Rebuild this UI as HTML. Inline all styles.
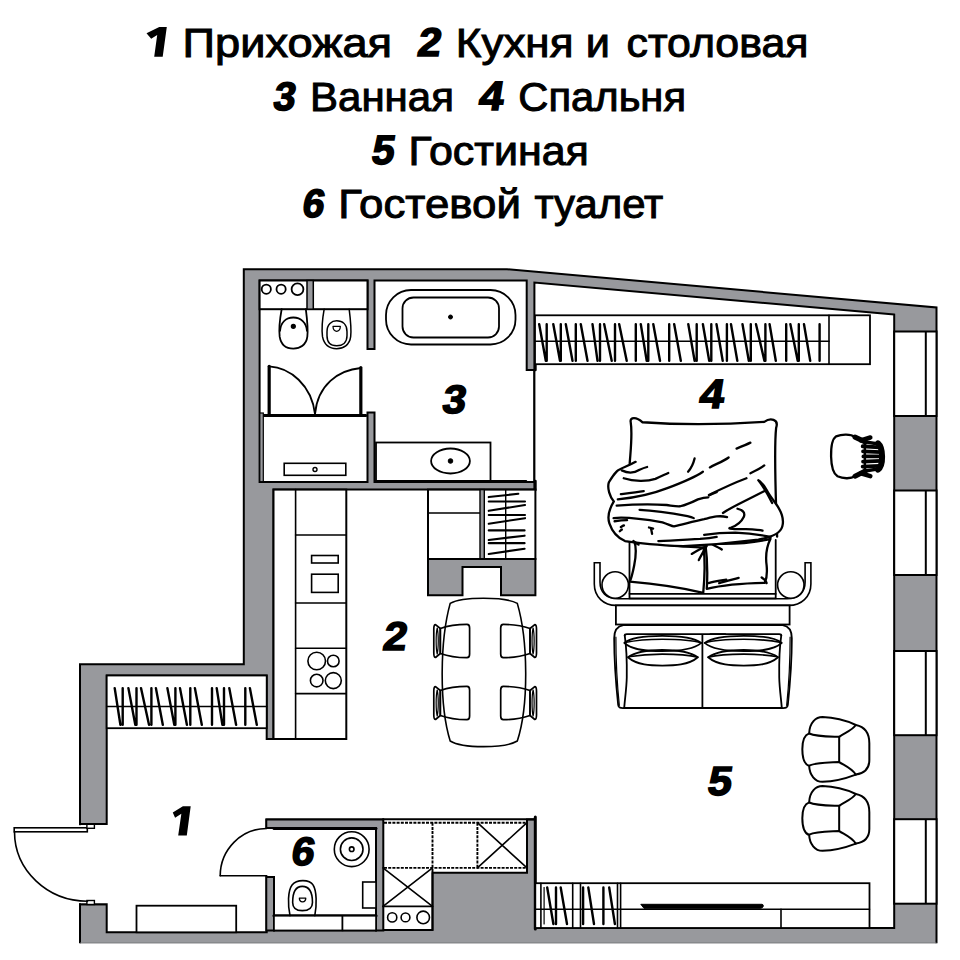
<!DOCTYPE html>
<html><head><meta charset="utf-8"><style>html,body{margin:0;padding:0;background:#fff;width:960px;height:960px;overflow:hidden}svg{display:block}</style></head>
<body><svg width="960" height="960" viewBox="0 0 960 960"><path d="M80,943.3 L80,904.3 L106.7,904.3 L106.7,824 L80,824 L80,664.2 L243.8,664.2 L243.8,269.2 L507,269.2 L936.5,307.5 L936.5,943.3 Z" fill="#98999d" stroke="none"/>
<path d="M80,943.3 L80,904.3 L106.7,904.3 L106.7,824 L80,824 L80,664.2 L243.8,664.2 L243.8,269.2 L507,269.2 L936.5,307.5 L936.5,943.3" fill="none" stroke="#000" stroke-width="2" stroke-linecap="butt"/>
<line x1="80" y1="942.9" x2="936.5" y2="942.9" stroke="#77787b" stroke-width="0.8"/>
<path d="M367.50,349.00 L367.50,280.50 L259.60,280.50 L259.60,482.00 L367.50,482.00 L367.50,412.50 L374.50,412.50 L374.50,482.00 L526.00,482.00 L526.70,482.00 L534.40,482.00 L534.40,370.00 L526.70,370.00 L526.70,280.50 L374.50,280.50 L374.50,349.00 Z" fill="#fff" stroke="#000" stroke-width="2"/>
<path d="M894.20,314.60 L534.40,282.50 L534.40,489.50 L273.50,489.50 L273.50,739.00 L266.70,739.00 L266.70,675.50 L106.70,675.50 L106.70,824.00 L80.00,824.00 L80.00,904.30 L106.70,904.30 L106.70,932.30 L266.70,932.30 L266.70,877.00 L274.00,877.00 L274.00,930.40 L376.00,930.40 L376.00,828.00 L275.00,828.00 L274.00,828.00 L266.70,828.00 L266.70,819.60 L383.00,819.60 L383.00,872.80 L383.00,930.00 L432.50,930.00 L432.50,872.80 L527.00,872.80 L527.00,819.60 L535.00,819.60 L535.00,928.00 L894.20,928.00 Z" fill="#fff" stroke="#000" stroke-width="2"/>
<rect x="78" y="825.2" width="3.5" height="77.9" fill="#fff"/>
<rect x="894.2" y="331.5" width="42.3" height="84.5" fill="#fff" stroke="#000" stroke-width="2"/>
<line x1="925.8" y1="331.5" x2="925.8" y2="416" stroke="#000" stroke-width="2"/>
<rect x="894.2" y="490.5" width="42.3" height="84.5" fill="#fff" stroke="#000" stroke-width="2"/>
<line x1="925.8" y1="490.5" x2="925.8" y2="575" stroke="#000" stroke-width="2"/>
<rect x="894.2" y="651" width="42.3" height="84.20000000000005" fill="#fff" stroke="#000" stroke-width="2"/>
<line x1="925.8" y1="651" x2="925.8" y2="735.2" stroke="#000" stroke-width="2"/>
<rect x="894.2" y="819.2" width="42.3" height="84.5" fill="#fff" stroke="#000" stroke-width="2"/>
<line x1="925.8" y1="819.2" x2="925.8" y2="903.7" stroke="#000" stroke-width="2"/>
<rect x="259.6" y="280.5" width="107.90" height="28.70" rx="0" fill="#fff" stroke="#000" stroke-width="2" />
<rect x="307" y="280.5" width="6.30" height="28.70" rx="0" fill="#98999d" stroke="#000" stroke-width="1.5" />
<circle cx="266.3" cy="289.2" r="4.6" fill="none" stroke="#000" stroke-width="1.8"/>
<circle cx="281.1" cy="289.2" r="4.6" fill="none" stroke="#000" stroke-width="1.8"/>
<circle cx="297.5" cy="289.2" r="5.9" fill="none" stroke="#000" stroke-width="1.8"/>
<g transform="translate(230,260) scale(0.166667)"><path d="M310,295 C300,350 293,420 298,460 C306,510 340,532 380,532 C420,532 458,510 464,460 C469,420 462,350 455,295" fill="none" stroke="#000" stroke-width="1.8" vector-effect="non-scaling-stroke" stroke-linecap="round" stroke-linejoin="round"/><path d="M300,425 C305,375 335,345 380,345 C425,345 458,375 462,425" fill="none" stroke="#000" stroke-width="1.8" vector-effect="non-scaling-stroke" stroke-linecap="round" stroke-linejoin="round"/><path d="M380,398 m-12,0 a12,12 0 1,0 24,0 a12,12 0 1,0 -24,0" fill="#000" stroke="#000" stroke-width="1.2" vector-effect="non-scaling-stroke" stroke-linecap="round" stroke-linejoin="round"/><path d="M565,295 C555,350 550,420 555,460 C565,510 600,532 640,532 C680,532 718,510 724,460 C729,420 722,350 715,295" fill="none" stroke="#000" stroke-width="1.5" vector-effect="non-scaling-stroke" stroke-linecap="round" stroke-linejoin="round"/><path d="M582,430 C582,385 610,365 640,365 C675,365 702,385 702,430 L702,455 C702,495 675,515 640,515 C605,515 582,495 582,455 Z" fill="none" stroke="#000" stroke-width="1.5" vector-effect="non-scaling-stroke" stroke-linecap="round" stroke-linejoin="round"/><path d="M618,398 L662,398 C662,418 650,428 640,428 C630,428 618,418 618,398 Z" fill="none" stroke="#000" stroke-width="1.3" vector-effect="non-scaling-stroke" stroke-linecap="round" stroke-linejoin="round"/></g>
<g transform="translate(240,360) scale(0.166667)"><path d="M175,38 L175,330" fill="none" stroke="#000" stroke-width="3.2" vector-effect="non-scaling-stroke" stroke-linecap="round" stroke-linejoin="round"/><path d="M175,38 C300,45 430,150 450,325" fill="none" stroke="#000" stroke-width="1.8" vector-effect="non-scaling-stroke" stroke-linecap="round" stroke-linejoin="round"/><path d="M725,45 L725,330" fill="none" stroke="#000" stroke-width="3.2" vector-effect="non-scaling-stroke" stroke-linecap="round" stroke-linejoin="round"/><path d="M725,48 C590,60 465,150 450,325" fill="none" stroke="#000" stroke-width="1.8" vector-effect="non-scaling-stroke" stroke-linecap="round" stroke-linejoin="round"/><path d="M145,333 L755,333" fill="none" stroke="#000" stroke-width="3.2" vector-effect="non-scaling-stroke" stroke-linecap="round" stroke-linejoin="round"/></g>
<rect x="259.8" y="413" width="3.50" height="68.70" rx="0" fill="#98999d" stroke="#000" stroke-width="1.2" />
<rect x="284.2" y="463.3" width="61.60" height="12.00" rx="0" fill="#fff" stroke="#000" stroke-width="1.6" />
<circle cx="315" cy="469.5" r="2.0" fill="none" stroke="#000" stroke-width="1.4"/>
<rect x="386" y="290" width="129.50" height="54.50" rx="25" fill="#fff" stroke="#000" stroke-width="1.8" />
<rect x="402.5" y="297.5" width="96.50" height="40.00" rx="11" fill="#fff" stroke="#000" stroke-width="1.8" />
<circle cx="450.5" cy="317" r="2.0" fill="#000" stroke="#000" stroke-width="1"/>
<rect x="376" y="442.5" width="114.50" height="39.50" rx="0" fill="#fff" stroke="#000" stroke-width="1.8" />
<ellipse cx="450.5" cy="461" rx="19.4" ry="12.5" fill="none" stroke="#000" stroke-width="1.8"/>
<circle cx="450.5" cy="461" r="2.3" fill="#000" stroke="#000" stroke-width="1"/>
<path d="M376,481.3 L526,481.3" fill="none" stroke="#000" stroke-width="2.5" stroke-linecap="round" stroke-linejoin="round" />
<path d="M535.4,355 L535.4,370" fill="none" stroke="#000" stroke-width="2.6" stroke-linecap="round" stroke-linejoin="round" stroke-linecap="butt"/>
<path d="M535.4,481 L535.4,490" fill="none" stroke="#000" stroke-width="2.6" stroke-linecap="round" stroke-linejoin="round" stroke-linecap="butt"/>
<rect x="273.5" y="489.6" width="72.80" height="249.40" rx="0" fill="#fff" stroke="#000" stroke-width="2" />
<path d="M295.6,489.6 L295.6,739" fill="none" stroke="#000" stroke-width="1.6" stroke-linecap="round" stroke-linejoin="round" />
<path d="M295.6,535 L346.3,535" fill="none" stroke="#000" stroke-width="1.6" stroke-linecap="round" stroke-linejoin="round" />
<path d="M295.6,603 L346.3,603" fill="none" stroke="#000" stroke-width="1.6" stroke-linecap="round" stroke-linejoin="round" />
<path d="M295.6,648.2 L346.3,648.2" fill="none" stroke="#000" stroke-width="1.6" stroke-linecap="round" stroke-linejoin="round" />
<path d="M295.6,693.6 L346.3,693.6" fill="none" stroke="#000" stroke-width="1.6" stroke-linecap="round" stroke-linejoin="round" />
<rect x="311.6" y="555.5" width="26.60" height="7.50" rx="0" fill="#fff" stroke="#000" stroke-width="1.6" />
<rect x="311.6" y="574.2" width="26.60" height="18.20" rx="0" fill="#fff" stroke="#000" stroke-width="1.6" />
<circle cx="316.7" cy="661" r="8.8" fill="none" stroke="#000" stroke-width="1.6"/>
<circle cx="333.3" cy="661" r="5.8" fill="none" stroke="#000" stroke-width="1.6"/>
<circle cx="316.7" cy="680.6" r="6.3" fill="none" stroke="#000" stroke-width="1.6"/>
<circle cx="333.3" cy="680.6" r="8" fill="none" stroke="#000" stroke-width="1.6"/>
<rect x="428" y="489.6" width="107.40" height="69.40" rx="0" fill="#fff" stroke="#000" stroke-width="2" />
<path d="M428,513 L480,513" fill="none" stroke="#000" stroke-width="1.6" stroke-linecap="round" stroke-linejoin="round" />
<rect x="480" y="489.6" width="4.30" height="69.40" rx="0" fill="#98999d" stroke="#000" stroke-width="1.4" />
<path d="M505.7,489.6 L505.7,559" fill="none" stroke="#000" stroke-width="1.4" stroke-linecap="round" stroke-linejoin="round" />
<path d="M428,559 L535.4,559 L535.4,595.2 L501,595.2 L501,567 L462.5,567 L462.5,595.2 L428,595.2 Z" fill="#98999d" stroke="#000" stroke-width="2"/>
<path d="M450.2,603.4 C462,596.5 505,596.5 517.3,603.4 C528,640 529,705 517.3,741 C505,748.5 462,748.5 450.2,741 C439,705 440,640 450.2,603.4 Z" fill="none" stroke="#000" stroke-width="1.6"/>
<g transform="translate(0,0)" fill="none" stroke="#000" stroke-width="1.7" stroke-linejoin="round"><path d="M440.3,628.5 C450,625 462,624.4 467,624.4 C469,624.4 469.6,625.5 469.6,628 L469.6,654 C469.6,656.5 469,657.7 467,657.7 C460,657.7 450,657 440.3,653.5 Z"/><path d="M440.3,628.5 L435.5,624.6 C434.2,624.6 433.8,626 433.8,629 L433.8,653 C433.8,656 434.2,657.5 435.5,657.5 L440.3,653.5 Z"/><path d="M437.2,628 C435.8,634 435.8,648 437.2,654 C438.6,648 438.6,634 437.2,628 Z" stroke-width="1.2"/></g>
<g transform="translate(0,62)" fill="none" stroke="#000" stroke-width="1.7" stroke-linejoin="round"><path d="M440.3,628.5 C450,625 462,624.4 467,624.4 C469,624.4 469.6,625.5 469.6,628 L469.6,654 C469.6,656.5 469,657.7 467,657.7 C460,657.7 450,657 440.3,653.5 Z"/><path d="M440.3,628.5 L435.5,624.6 C434.2,624.6 433.8,626 433.8,629 L433.8,653 C433.8,656 434.2,657.5 435.5,657.5 L440.3,653.5 Z"/><path d="M437.2,628 C435.8,634 435.8,648 437.2,654 C438.6,648 438.6,634 437.2,628 Z" stroke-width="1.2"/></g>
<g transform="translate(0,0) translate(970.3,0) scale(-1,1)" fill="none" stroke="#000" stroke-width="1.7" stroke-linejoin="round"><path d="M440.3,628.5 C450,625 462,624.4 467,624.4 C469,624.4 469.6,625.5 469.6,628 L469.6,654 C469.6,656.5 469,657.7 467,657.7 C460,657.7 450,657 440.3,653.5 Z"/><path d="M440.3,628.5 L435.5,624.6 C434.2,624.6 433.8,626 433.8,629 L433.8,653 C433.8,656 434.2,657.5 435.5,657.5 L440.3,653.5 Z"/><path d="M437.2,628 C435.8,634 435.8,648 437.2,654 C438.6,648 438.6,634 437.2,628 Z" stroke-width="1.2"/></g>
<g transform="translate(0,62) translate(970.3,0) scale(-1,1)" fill="none" stroke="#000" stroke-width="1.7" stroke-linejoin="round"><path d="M440.3,628.5 C450,625 462,624.4 467,624.4 C469,624.4 469.6,625.5 469.6,628 L469.6,654 C469.6,656.5 469,657.7 467,657.7 C460,657.7 450,657 440.3,653.5 Z"/><path d="M440.3,628.5 L435.5,624.6 C434.2,624.6 433.8,626 433.8,629 L433.8,653 C433.8,656 434.2,657.5 435.5,657.5 L440.3,653.5 Z"/><path d="M437.2,628 C435.8,634 435.8,648 437.2,654 C438.6,648 438.6,634 437.2,628 Z" stroke-width="1.2"/></g>
<rect x="535" y="315.3" width="335.00" height="48.90" rx="0" fill="#fff" stroke="#000" stroke-width="1.8" />
<path d="M535,341.3 L829,341.3" fill="none" stroke="#000" stroke-width="1.6" stroke-linecap="round" stroke-linejoin="round" />
<path d="M829,315.3 L829,364.2" fill="none" stroke="#000" stroke-width="1.6" stroke-linecap="round" stroke-linejoin="round" />
<path d="M594.3,562.8 L600,562.8 L600,582 C600,592 606,598.7 618,598.7 L787,598.7 C799,598.7 805.1,592 805.1,582 L805.1,562.8 L810.9,562.8 L810.9,584 C810.9,597 801,605.4 789,605.4 L616,605.4 C604,605.4 594.3,597 594.3,584 Z" fill="#fff" stroke="#000" stroke-width="1.6"/>
<circle cx="615.2" cy="585" r="13.2" fill="#fff" stroke="#000" stroke-width="1.6"/>
<circle cx="790.8" cy="585" r="13.2" fill="#fff" stroke="#000" stroke-width="1.6"/>
<rect x="615.9" y="605.4" width="173.70" height="19.10" rx="0" fill="#fff" stroke="#000" stroke-width="1.8" />
<path d="M629.5,540 L629.5,598.4 L775.7,598.4 L775.7,540" fill="none" stroke="#000" stroke-width="1.8" stroke-linecap="round" stroke-linejoin="round" />
<path d="M629.5,593.8 L775.7,593.8" fill="none" stroke="#000" stroke-width="1.8" stroke-linecap="round" stroke-linejoin="round" />
<g transform="translate(620,530) scale(0.177085)"><path d="M80,62 C95,100 90,150 80,200 C72,240 65,270 55,292 C150,300 300,315 470,355 C478,270 482,180 472,100 C350,95 200,80 80,62 Z" fill="#fff" stroke="#000" stroke-width="2.3" vector-effect="non-scaling-stroke" stroke-linecap="round" stroke-linejoin="round"/><path d="M482,75 C600,82 720,80 850,50 C830,90 820,140 828,200 C832,240 830,270 818,298 C700,300 600,305 490,332 C495,250 492,150 482,75 Z" fill="#fff" stroke="#000" stroke-width="2.3" vector-effect="non-scaling-stroke" stroke-linecap="round" stroke-linejoin="round"/><path d="M405,135 C430,120 455,105 480,95" fill="none" stroke="#000" stroke-width="2.3" vector-effect="non-scaling-stroke" stroke-linecap="round" stroke-linejoin="round"/><path d="M445,170 C460,140 475,115 490,90" fill="none" stroke="#000" stroke-width="2.3" vector-effect="non-scaling-stroke" stroke-linecap="round" stroke-linejoin="round"/><path d="M520,80 C540,90 560,100 575,110" fill="none" stroke="#000" stroke-width="2.3" vector-effect="non-scaling-stroke" stroke-linecap="round" stroke-linejoin="round"/><path d="M500,300 C530,290 570,285 600,280" fill="none" stroke="#000" stroke-width="2.3" vector-effect="non-scaling-stroke" stroke-linecap="round" stroke-linejoin="round"/><path d="M560,300 C600,290 640,278 670,270" fill="none" stroke="#000" stroke-width="2.3" vector-effect="non-scaling-stroke" stroke-linecap="round" stroke-linejoin="round"/><path d="M800,268 C815,278 825,288 828,300" fill="none" stroke="#000" stroke-width="2.3" vector-effect="non-scaling-stroke" stroke-linecap="round" stroke-linejoin="round"/><path d="M70,65 C80,55 95,55 100,70" fill="none" stroke="#000" stroke-width="3" vector-effect="non-scaling-stroke" stroke-linecap="round" stroke-linejoin="round"/></g>
<path d="M 629.69,463.43 C 630.67,449.58 632.65,433.75 630.67,421.87 C 629.69,416.93 636.61,416.93 642.55,422.27 C 679.16,424.84 728.64,424.25 764.26,421.87 C 770.20,417.52 779.10,418.91 776.13,427.81 C 773.76,449.58 775.74,499.06 777.12,536.66" fill="#fff" stroke="#000" stroke-width="2.3" stroke-linecap="round" stroke-linejoin="round"/>
<path d="M 635.62,461.85 C 627.71,466.40 619.79,468.38 616.82,471.35 C 613.85,474.32 611.87,477.29 608.91,482.23 C 606.93,488.17 609.90,497.08 613.85,501.43 C 609.38,508.75 607.29,517.08 609.38,523.33 C 611.46,529.58 615.62,536.88 625.00,541.04 C 641.67,543.75 662.50,545.21 683.33,546.25 C 704.17,545.21 735.42,542.50 758.33,539.58 C 770.83,537.50 780.21,533.75 782.29,526.46 C 784.38,519.17 781.25,510.83 775.00,502.50 C 771.88,498.33 768.75,494.17 766.67,490.00 C 765.25,487.18 762.28,483.22 758.32,480.26" fill="#fff" stroke="#000" stroke-width="2.3" stroke-linecap="round" stroke-linejoin="round"/>
<path d="M 621.77,470.36 C 627.71,473.33 634.63,472.93 639.58,469.77 C 642.55,468.38 645.52,467.39 647.10,467.00" fill="none" stroke="#000" stroke-width="2.3" stroke-linecap="round" stroke-linejoin="round"/>
<path d="M 623.75,478.28 C 633.64,481.64 647.50,481.64 655.41,478.87 C 660.36,476.50 665.31,474.32 668.28,472.93" fill="none" stroke="#000" stroke-width="2.3" stroke-linecap="round" stroke-linejoin="round"/>
<path d="M 688.07,471.75 C 691.04,468.38 693.41,463.43 694.60,458.49" fill="none" stroke="#000" stroke-width="2.3" stroke-linecap="round" stroke-linejoin="round"/>
<path d="M 617.81,499.45 C 631.66,498.07 649.48,495.10 667.29,488.17 C 683.12,482.23 694.99,477.29 702.91,471.75" fill="none" stroke="#000" stroke-width="2.3" stroke-linecap="round" stroke-linejoin="round"/>
<path d="M 709.84,467.39 C 714.78,464.42 722.70,461.85 728.64,457.50" fill="none" stroke="#000" stroke-width="2.3" stroke-linecap="round" stroke-linejoin="round"/>
<path d="M 736.55,448.59 C 741.50,446.61 746.45,444.63 750.41,442.65" fill="none" stroke="#000" stroke-width="2.3" stroke-linecap="round" stroke-linejoin="round"/>
<path d="M 708.85,495.10 C 718.74,490.15 730.62,484.21 746.45,478.28" fill="none" stroke="#000" stroke-width="2.3" stroke-linecap="round" stroke-linejoin="round"/>
<path d="M 750.41,473.33 C 756.34,470.36 761.29,467.79 764.26,465.41" fill="none" stroke="#000" stroke-width="2.3" stroke-linecap="round" stroke-linejoin="round"/>
<path d="M 759.31,481.24 C 764.26,488.17 768.22,495.10 772.17,503.01" fill="none" stroke="#000" stroke-width="2.3" stroke-linecap="round" stroke-linejoin="round"/>
<path d="M 616.67,505.62 C 631.25,504.58 652.08,504.17 666.67,505.00 C 672.92,505.83 677.08,506.67 680.21,506.25 C 687.50,504.58 693.75,501.46 697.92,499.38 C 702.08,497.92 705.21,497.29 708.33,497.29" fill="none" stroke="#000" stroke-width="2.3" stroke-linecap="round" stroke-linejoin="round"/>
<path d="M 709.38,495.21 C 712.50,493.75 714.58,492.92 716.67,492.08" fill="none" stroke="#000" stroke-width="2.3" stroke-linecap="round" stroke-linejoin="round"/>
<path d="M 620.83,494.17 C 629.17,493.12 637.50,492.08 643.75,491.04" fill="none" stroke="#000" stroke-width="2.3" stroke-linecap="round" stroke-linejoin="round"/>
<path d="M 639.58,509.79 C 654.17,510.42 670.83,512.92 687.50,516.04 C 690.62,516.67 692.71,517.50 693.75,518.12" fill="none" stroke="#000" stroke-width="2.3" stroke-linecap="round" stroke-linejoin="round"/>
<path d="M 613.54,518.12 C 625.00,516.67 641.67,518.75 662.50,522.29 C 668.75,524.38 671.88,526.46 673.96,526.46 C 683.33,524.38 693.75,521.25 704.17,519.17 C 712.50,517.08 718.75,515.00 727.08,517.08" fill="none" stroke="#000" stroke-width="2.3" stroke-linecap="round" stroke-linejoin="round"/>
<path d="M 614.58,521.25 C 618.75,520.62 622.92,520.21 627.08,520.21" fill="none" stroke="#000" stroke-width="2.3" stroke-linecap="round" stroke-linejoin="round"/>
<path d="M 620.83,527.08 C 621.88,526.46 622.92,525.83 623.96,525.42" fill="none" stroke="#000" stroke-width="2.3" stroke-linecap="round" stroke-linejoin="round"/>
<path d="M 619.79,531.25 C 620.42,530.62 621.25,530.00 621.88,529.58" fill="none" stroke="#000" stroke-width="2.3" stroke-linecap="round" stroke-linejoin="round"/>
<path d="M 722.92,512.92 C 729.17,508.75 735.42,505.62 743.75,501.46 C 750.00,498.33 758.33,494.17 764.58,491.04" fill="none" stroke="#000" stroke-width="2.3" stroke-linecap="round" stroke-linejoin="round"/>
<path d="M 737.50,508.75 C 741.67,509.79 745.83,511.88 743.75,517.08 C 741.67,521.25 737.50,525.42 731.25,527.50 C 725.00,528.96 735.42,529.17 745.83,529.17 C 754.17,529.58 760.42,530.00 762.50,530.62" fill="none" stroke="#000" stroke-width="2.3" stroke-linecap="round" stroke-linejoin="round"/>
<path d="M 648.96,527.50 L 653.12,528.54 M 651.04,528.54 L 652.08,533.75" fill="none" stroke="#000" stroke-width="2.3" stroke-linecap="round" stroke-linejoin="round"/>
<path d="M 704.17,534.79 C 714.58,533.33 725.00,532.71 735.42,532.71 C 745.83,533.12 756.25,534.17 770.83,536.88" fill="none" stroke="#000" stroke-width="2.3" stroke-linecap="round" stroke-linejoin="round"/>
<path d="M 658.33,541.04 C 672.92,540.62 687.50,539.58 700.00,538.96 C 708.33,538.33 713.54,537.50 716.67,536.88" fill="none" stroke="#000" stroke-width="2.3" stroke-linecap="round" stroke-linejoin="round"/>
<path d="M 633.33,541.04 C 635.00,542.08 637.08,543.75 638.54,544.58" fill="none" stroke="#000" stroke-width="2.3" stroke-linecap="round" stroke-linejoin="round"/>
<g transform="translate(605,620) scale(0.114587)"><path d="M160,45 C100,55 80,100 80,160 C80,400 100,600 115,740 C118,768 135,770 170,768 L1050,768" fill="none" stroke="#000" stroke-width="1.8" vector-effect="non-scaling-stroke" stroke-linecap="round" stroke-linejoin="round"/><path d="M95,150 C95,350 105,550 125,745" fill="none" stroke="#000" stroke-width="1.2" vector-effect="non-scaling-stroke" stroke-linecap="round" stroke-linejoin="round"/><path d="M172,135 C185,220 192,350 190,500 C188,600 172,700 168,765" fill="none" stroke="#000" stroke-width="1.8" vector-effect="non-scaling-stroke" stroke-linecap="round" stroke-linejoin="round"/><path d="M172,135 C172,128 178,123 190,123 L1050,123" fill="none" stroke="#000" stroke-width="1.8" vector-effect="non-scaling-stroke" stroke-linecap="round" stroke-linejoin="round"/><path d="M160,45 L1050,45" fill="none" stroke="#000" stroke-width="1.8" vector-effect="non-scaling-stroke" stroke-linecap="round" stroke-linejoin="round"/><path d="M168,200 C240,140 420,138 500,138 C600,138 760,140 840,200 C760,270 600,272 500,272 C400,272 240,270 168,200 Z" fill="none" stroke="#000" stroke-width="1.8" vector-effect="non-scaling-stroke" stroke-linecap="round" stroke-linejoin="round"/><path d="M175,197 C300,170 420,168 500,168 C600,168 760,175 840,200" fill="none" stroke="#000" stroke-width="1.6" vector-effect="non-scaling-stroke" stroke-linecap="round" stroke-linejoin="round"/><path d="M200,325 C280,268 420,262 500,262 C600,262 730,268 810,325 C730,395 600,398 500,398 C400,398 280,395 200,325 Z" fill="none" stroke="#000" stroke-width="1.8" vector-effect="non-scaling-stroke" stroke-linecap="round" stroke-linejoin="round"/><path d="M205,320 C300,305 420,298 500,298 C600,298 730,305 810,325" fill="none" stroke="#000" stroke-width="1.6" vector-effect="non-scaling-stroke" stroke-linecap="round" stroke-linejoin="round"/><path d="M850,130 L850,765" fill="none" stroke="#000" stroke-width="1.8" vector-effect="non-scaling-stroke" stroke-linecap="round" stroke-linejoin="round"/></g>
<g transform="translate(801,620) scale(0.114587)"><path d="M-160,45 C-100,55 -80,100 -80,160 C-80,400 -100,600 -115,740 C-118,768 -135,770 -170,768 L-790,768" fill="none" stroke="#000" stroke-width="1.8" vector-effect="non-scaling-stroke" stroke-linecap="round" stroke-linejoin="round"/><path d="M-95,150 C-95,350 -105,550 -125,745" fill="none" stroke="#000" stroke-width="1.2" vector-effect="non-scaling-stroke" stroke-linecap="round" stroke-linejoin="round"/><path d="M-172,135 C-185,220 -192,350 -190,500 C-188,600 -172,700 -168,765" fill="none" stroke="#000" stroke-width="1.8" vector-effect="non-scaling-stroke" stroke-linecap="round" stroke-linejoin="round"/><path d="M-172,135 C-172,128 -178,123 -190,123 L-790,123" fill="none" stroke="#000" stroke-width="1.8" vector-effect="non-scaling-stroke" stroke-linecap="round" stroke-linejoin="round"/><path d="M-160,45 L-790,45" fill="none" stroke="#000" stroke-width="1.8" vector-effect="non-scaling-stroke" stroke-linecap="round" stroke-linejoin="round"/><path d="M-168,200 C-240,140 -420,138 -500,138 C-600,138 -760,140 -840,200 C-760,270 -600,272 -500,272 C-400,272 -240,270 -168,200 Z" fill="none" stroke="#000" stroke-width="1.8" vector-effect="non-scaling-stroke" stroke-linecap="round" stroke-linejoin="round"/><path d="M-175,197 C-300,170 -420,168 -500,168 C-600,168 -760,175 -840,200" fill="none" stroke="#000" stroke-width="1.6" vector-effect="non-scaling-stroke" stroke-linecap="round" stroke-linejoin="round"/><path d="M-200,325 C-280,268 -420,262 -500,262 C-600,262 -730,268 -810,325 C-730,395 -600,398 -500,398 C-400,398 -280,395 -200,325 Z" fill="none" stroke="#000" stroke-width="1.8" vector-effect="non-scaling-stroke" stroke-linecap="round" stroke-linejoin="round"/><path d="M-205,320 C-300,305 -420,298 -500,298 C-600,298 -730,305 -810,325" fill="none" stroke="#000" stroke-width="1.6" vector-effect="non-scaling-stroke" stroke-linecap="round" stroke-linejoin="round"/></g>
<g transform="translate(795,710) scale(0.083333)"><path d="M170,280 C110,300 88,380 88,470 C88,560 110,650 170,672 C175,780 240,862 330,862 C450,858 600,825 730,775 C830,760 892,700 892,600 L892,400 C892,270 830,200 730,180 C600,120 450,88 330,85 C250,85 175,150 170,280 Z" fill="#fff" stroke="#000" stroke-width="2" vector-effect="non-scaling-stroke" stroke-linecap="round" stroke-linejoin="round"/><path d="M170,282 C250,320 400,318 530,322 C600,270 680,250 730,180" fill="none" stroke="#000" stroke-width="2" vector-effect="non-scaling-stroke" stroke-linecap="round" stroke-linejoin="round"/><path d="M170,668 C250,630 400,632 530,625 C600,670 680,700 730,775" fill="none" stroke="#000" stroke-width="2" vector-effect="non-scaling-stroke" stroke-linecap="round" stroke-linejoin="round"/><path d="M530,322 L530,625" fill="none" stroke="#000" stroke-width="2" vector-effect="non-scaling-stroke" stroke-linecap="round" stroke-linejoin="round"/></g>
<g transform="translate(795,779) scale(0.083333)"><path d="M170,280 C110,300 88,380 88,470 C88,560 110,650 170,672 C175,780 240,862 330,862 C450,858 600,825 730,775 C830,760 892,700 892,600 L892,400 C892,270 830,200 730,180 C600,120 450,88 330,85 C250,85 175,150 170,280 Z" fill="#fff" stroke="#000" stroke-width="2" vector-effect="non-scaling-stroke" stroke-linecap="round" stroke-linejoin="round"/><path d="M170,282 C250,320 400,318 530,322 C600,270 680,250 730,180" fill="none" stroke="#000" stroke-width="2" vector-effect="non-scaling-stroke" stroke-linecap="round" stroke-linejoin="round"/><path d="M170,668 C250,630 400,632 530,625 C600,670 680,700 730,775" fill="none" stroke="#000" stroke-width="2" vector-effect="non-scaling-stroke" stroke-linecap="round" stroke-linejoin="round"/><path d="M530,322 L530,625" fill="none" stroke="#000" stroke-width="2" vector-effect="non-scaling-stroke" stroke-linecap="round" stroke-linejoin="round"/></g>
<g transform="translate(820,420) scale(0.072939)"><path d="M480,235 C420,190 300,192 220,225 C160,265 150,380 152,500 C155,640 175,730 240,772 C320,810 430,805 480,770" fill="none" stroke="#000" stroke-width="2.3" vector-effect="non-scaling-stroke" stroke-linecap="round" stroke-linejoin="round"/><path d="M480,235 L620,300 M480,770 L620,700" fill="none" stroke="#000" stroke-width="5" vector-effect="non-scaling-stroke" stroke-linecap="round" stroke-linejoin="round"/><path d="M560,280 L690,240 M560,730 L690,770" fill="none" stroke="#000" stroke-width="4.5" vector-effect="non-scaling-stroke" stroke-linecap="round" stroke-linejoin="round"/><path d="M620,300 L800,330 M620,700 L800,670" fill="none" stroke="#000" stroke-width="3.5" vector-effect="non-scaling-stroke" stroke-linecap="round" stroke-linejoin="round"/><path d="M795,320 C865,380 875,620 795,680" fill="none" stroke="#000" stroke-width="6" vector-effect="non-scaling-stroke" stroke-linecap="round" stroke-linejoin="round"/><path d="M615,295 L615,705" fill="none" stroke="#000" stroke-width="2.5" vector-effect="non-scaling-stroke" stroke-linecap="round" stroke-linejoin="round"/><path d="M585,360 L815,375 M590,430 L832,440 M595,500 L838,500 M590,570 L832,560 M585,640 L815,628" fill="none" stroke="#000" stroke-width="3.8" vector-effect="non-scaling-stroke" stroke-linecap="round" stroke-linejoin="round"/></g>
<rect x="106.7" y="675.5" width="160.00" height="52.70" rx="0" fill="#fff" stroke="#000" stroke-width="1.8" />
<path d="M106.7,706.5 L266.7,706.5" fill="none" stroke="#000" stroke-width="1.6" stroke-linecap="round" stroke-linejoin="round" />
<rect x="136.5" y="905.7" width="99.70" height="26.60" rx="0" fill="#fff" stroke="#000" stroke-width="1.8" />
<rect x="14.2" y="827.8" width="73.10" height="4.00" rx="0" fill="#fff" stroke="#000" stroke-width="1.6" />
<rect x="86.9" y="824.3" width="7.50" height="4.00" rx="0" fill="#fff" stroke="#000" stroke-width="1.4" />
<rect x="86.9" y="900.5" width="7.50" height="4.00" rx="0" fill="#fff" stroke="#000" stroke-width="1.4" />
<path d="M14.5,831.8 A73,69.5 0 0 0 87.5,901.2" fill="none" stroke="#000" stroke-width="1.6" stroke-linecap="round" stroke-linejoin="round" />
<path d="M266.25,819.6 L383.3,819.6 L383.3,930.4 L376,930.4 L376,828 L266.25,828 Z" fill="#98999d" stroke="#000" stroke-width="2"/>
<path d="M274,828.5 L376,828.5" fill="none" stroke="#000" stroke-width="3" stroke-linecap="round" stroke-linejoin="round" />
<path d="M266.25,876.9 L274,876.9 L274,930.4 L266.25,930.4 Z" fill="#98999d" stroke="#000" stroke-width="2"/>
<path d="M220.2,875.8 L266.7,875.8" fill="none" stroke="#000" stroke-width="1.6" stroke-linecap="round" stroke-linejoin="round" />
<path d="M220.2,875.8 A46.5,47.5 0 0 1 266.7,828.5" fill="none" stroke="#000" stroke-width="1.6" stroke-linecap="round" stroke-linejoin="round" />
<path d="M274,915.8 L376,915.8" fill="none" stroke="#000" stroke-width="3.2" stroke-linecap="round" stroke-linejoin="round" />
<rect x="274" y="915.8" width="68.50" height="14.60" rx="0" fill="#fff" stroke="#000" stroke-width="1.6" />
<rect x="342.5" y="915.8" width="33.50" height="14.60" rx="0" fill="#fff" stroke="#000" stroke-width="1.6" />
<circle cx="351.7" cy="849.2" r="17.4" fill="none" stroke="#000" stroke-width="1.6"/>
<circle cx="351.7" cy="849.2" r="11.3" fill="none" stroke="#000" stroke-width="1.6"/>
<circle cx="351.7" cy="849.2" r="2.3" fill="none" stroke="#000" stroke-width="1.6"/>
<rect x="362.7" y="882" width="13.30" height="26.00" rx="0" fill="#fff" stroke="#000" stroke-width="1.6" />
<g transform="translate(260,780) scale(0.291545)"><path d="M103,465 C95,430 95,380 110,360 C125,340 170,340 182,360 C195,380 195,430 188,465" fill="none" stroke="#000" stroke-width="1.6" vector-effect="non-scaling-stroke" stroke-linecap="round" stroke-linejoin="round"/><path d="M112,420 C112,380 125,365 145,365 C165,365 180,380 180,420 C180,440 165,448 145,448 C125,448 112,440 112,420 Z" fill="none" stroke="#000" stroke-width="1.6" vector-effect="non-scaling-stroke" stroke-linecap="round" stroke-linejoin="round"/><path d="M135,405 L157,405 C157,415 150,418 146,418 C140,418 135,415 135,405 Z" fill="none" stroke="#000" stroke-width="1.3" vector-effect="non-scaling-stroke" stroke-linecap="round" stroke-linejoin="round"/></g>
<path d="M383,819.2 L535,819.2" fill="none" stroke="#000" stroke-width="2" stroke-linecap="round" stroke-linejoin="round" />
<g fill="none" stroke="#000" stroke-width="1.9" stroke-dasharray="3,1.2"><path d="M384,822.7 L527,822.7 M384,867.9 L527,867.9 M432.5,822.7 L432.5,872.8 M477.4,822.7 L477.4,867.9 M527,822.7 L527,867.9"/></g>
<path d="M477.4,822.7 L527,867.9 M527,822.7 L477.4,867.9" fill="none" stroke="#000" stroke-width="1.6" stroke-linecap="round" stroke-linejoin="round" />
<path d="M383,867.9 L432.5,906.3 M432.5,867.9 L383,906.3" fill="none" stroke="#000" stroke-width="1.6" stroke-linecap="round" stroke-linejoin="round" />
<path d="M383,906.3 L432.5,906.3" fill="none" stroke="#000" stroke-width="1.8" stroke-linecap="round" stroke-linejoin="round" />
<path d="M432.5,872.8 L432.5,930" fill="none" stroke="#000" stroke-width="1.8" stroke-linecap="round" stroke-linejoin="round" />
<circle cx="392.2" cy="917.4" r="4.6" fill="none" stroke="#000" stroke-width="1.6"/>
<circle cx="405.5" cy="917.4" r="4.4" fill="none" stroke="#000" stroke-width="1.6"/>
<circle cx="423.2" cy="917.4" r="6.3" fill="none" stroke="#000" stroke-width="1.6"/>
<path d="M535.3,817 L535.3,929" fill="none" stroke="#000" stroke-width="3" stroke-linecap="round" stroke-linejoin="round" />
<rect x="535.3" y="883.2" width="334.20" height="44.80" rx="0" fill="#fff" stroke="#000" stroke-width="1.8" />
<path d="M535.3,909.2 L869.5,909.2" fill="none" stroke="#000" stroke-width="1.6" stroke-linecap="round" stroke-linejoin="round" />
<path d="M540.9,883.2 L540.9,928" fill="none" stroke="#000" stroke-width="1.6" stroke-linecap="round" stroke-linejoin="round" />
<path d="M572.7,883.2 L572.7,928" fill="none" stroke="#000" stroke-width="1.6" stroke-linecap="round" stroke-linejoin="round" />
<path d="M580.5,883.2 L580.5,928" fill="none" stroke="#000" stroke-width="1.6" stroke-linecap="round" stroke-linejoin="round" />
<path d="M617.5,883.2 L617.5,928" fill="none" stroke="#000" stroke-width="1.6" stroke-linecap="round" stroke-linejoin="round" />
<path d="M620.6,883.2 L620.6,928" fill="none" stroke="#000" stroke-width="1.6" stroke-linecap="round" stroke-linejoin="round" />
<path d="M781,909.2 L781,928" fill="none" stroke="#000" stroke-width="1.6" stroke-linecap="round" stroke-linejoin="round" />
<path d="M640.8,904.3 L762,904.3 C764,904.3 764,908.3 760,908.3 L644,908.3 Z" fill="#000" stroke="#000" stroke-width="1"/>
<path d="M539.2,324.2 L545.8,360.8 M546.7,324.2 L546.7,360.8 M553.3,324.2 L560.0,360.8 M560.8,324.2 L560.8,360.8 M565.8,324.2 L572.5,360.8 M575.8,324.2 L575.8,360.8 M580.8,324.2 L587.5,360.8 M592.5,324.2 L597.5,360.8 M600.0,324.2 L600.0,360.8 M604.2,324.2 L611.7,360.8 M615.0,324.2 L615.0,360.8 M619.2,324.2 L626.7,360.8 M635.8,324.2 L635.8,360.8 M640.8,324.2 L646.7,360.8 M648.3,324.2 L648.3,360.8 M653.3,324.2 L660.0,360.8 M669.2,324.2 L669.2,360.8 M674.2,324.2 L680.8,360.8 M688.3,324.2 L694.6,360.8 M696.7,324.2 L696.7,360.8 M702.9,324.2 L709.2,360.8 M711.3,324.2 L711.3,360.8 M716.5,324.2 L722.7,360.8 M726.9,324.2 L726.9,360.8 M731.0,324.2 L737.3,360.8 M742.5,324.2 L748.8,360.8 M750.8,324.2 L750.8,360.8 M756.0,324.2 L764.4,360.8 M765.4,324.2 L765.4,360.8 M769.6,324.2 L775.8,360.8 M786.2,324.2 L786.2,360.8 M790.4,324.2 L797.7,360.8 M798.8,324.2 L798.8,360.8 M804.0,324.2 L810.2,360.8 M819.6,324.2 L819.6,360.8 " fill="none" stroke="#000" stroke-width="2.4" stroke-linecap="round"/>
<path d="M114.7,688.1 L120.4,724.8 M122.7,688.1 L122.7,724.8 M128.4,688.1 L135.3,724.8 M136.5,688.1 L136.5,724.8 M141.0,688.1 L149.0,724.8 M151.4,688.1 L151.4,724.8 M155.9,688.1 L162.8,724.8 M167.4,688.1 L174.3,724.8 M175.4,688.1 L175.4,724.8 M180.0,688.1 L186.9,724.8 M190.3,688.1 L190.3,724.8 M194.9,688.1 L201.8,724.8 M212.0,688.1 L212.0,724.8 M216.7,688.1 L222.4,724.8 M224.0,688.1 L224.0,724.8 M229.3,688.1 L236.1,724.8 M245.3,688.1 L245.3,724.8 M249.9,688.1 L256.8,724.8 " fill="none" stroke="#000" stroke-width="2.4" stroke-linecap="round"/>
<path d="M547.2,887.5 L553.4,924 M556.0,887.5 L556.0,924 M560.7,887.5 L567.0,924 M583.1,887.5 L583.1,924 M588.3,887.5 L594.0,924 M603.4,887.5 L603.4,924 M609.2,887.5 L614.9,924 " fill="none" stroke="#000" stroke-width="2.4" stroke-linecap="round"/>
<path d="M544.1,887.5 L544.1,924 " fill="none" stroke="#000" stroke-width="1.2" stroke-linecap="round"/>
<path d="M488.75,497.08 L518.33,493.75 M488.75,501.50 L525.00,501.50 M488.75,510.83 L525.00,505.00 M488.75,515.00 L525.00,515.00 M488.75,523.75 L525.00,518.17 M488.75,530.42 L524.58,530.42 M488.75,540.00 L524.58,535.67 M488.75,543.17 L524.58,543.17 M488.75,554.00 L524.58,548.75 " fill="none" stroke="#000" stroke-width="2.1" stroke-linecap="round"/>
<text x="182.63" y="56.9" font-family="Liberation Sans" font-size="41.5" stroke-width="1.0" stroke="#000" fill="#000" textLength="209.49" lengthAdjust="spacingAndGlyphs">Прихожая</text>
<text x="416.35" y="55.9" font-family="Liberation Sans" font-size="40.0" font-weight="bold" stroke-width="1.5" transform="translate(416.35,55.9) skewX(-9) translate(-416.35,-55.9)" stroke="#000" fill="#000" textLength="23.32" lengthAdjust="spacingAndGlyphs">2</text>
<text x="455.82" y="56.9" font-family="Liberation Sans" font-size="41.5" stroke-width="1.0" stroke="#000" fill="#000" textLength="117.63" lengthAdjust="spacingAndGlyphs">Кухня</text>
<text x="585.82" y="56.9" font-family="Liberation Sans" font-size="41.5" stroke-width="1.0" stroke="#000" fill="#000" textLength="24.16" lengthAdjust="spacingAndGlyphs">и</text>
<text x="626.47" y="56.9" font-family="Liberation Sans" font-size="41.5" stroke-width="1.0" stroke="#000" fill="#000" textLength="181.97" lengthAdjust="spacingAndGlyphs">столовая</text>
<text x="272.0" y="109.8" font-family="Liberation Sans" font-size="39.73" font-weight="bold" stroke-width="1.5" transform="translate(272.0,109.8) skewX(-9) translate(-272.0,-109.8)" stroke="#000" fill="#000" textLength="22.0" lengthAdjust="spacingAndGlyphs">3</text>
<text x="310.06" y="110.8" font-family="Liberation Sans" font-size="41.5" stroke-width="1.0" stroke="#000" fill="#000" textLength="143.87" lengthAdjust="spacingAndGlyphs">Ванная</text>
<text x="477.63" y="109.8" font-family="Liberation Sans" font-size="41.1" font-weight="bold" stroke-width="1.5" transform="translate(477.63,109.8) skewX(-9) translate(-477.63,-109.8)" stroke="#000" fill="#000" textLength="24.49" lengthAdjust="spacingAndGlyphs">4</text>
<text x="518.39" y="110.8" font-family="Liberation Sans" font-size="41.5" stroke-width="1.0" stroke="#000" fill="#000" textLength="167.62" lengthAdjust="spacingAndGlyphs">Спальня</text>
<text x="370.22" y="163.7" font-family="Liberation Sans" font-size="41.1" font-weight="bold" stroke-width="1.5" transform="translate(370.22,163.7) skewX(-9) translate(-370.22,-163.7)" stroke="#000" fill="#000" textLength="22.67" lengthAdjust="spacingAndGlyphs">5</text>
<text x="408.6" y="164.7" font-family="Liberation Sans" font-size="41.5" stroke-width="1.0" stroke="#000" fill="#000" textLength="180.27" lengthAdjust="spacingAndGlyphs">Гостиная</text>
<text x="300.92" y="217.3" font-family="Liberation Sans" font-size="39.73" font-weight="bold" stroke-width="1.5" transform="translate(300.92,217.3) skewX(-9) translate(-300.92,-217.3)" stroke="#000" fill="#000" textLength="21.9" lengthAdjust="spacingAndGlyphs">6</text>
<text x="338.33" y="218.3" font-family="Liberation Sans" font-size="41.5" stroke-width="1.0" stroke="#000" fill="#000" textLength="182.53" lengthAdjust="spacingAndGlyphs">Гостевой</text>
<text x="534.4" y="218.3" font-family="Liberation Sans" font-size="41.5" stroke-width="1.0" stroke="#000" fill="#000" textLength="128.86" lengthAdjust="spacingAndGlyphs">туалет</text>
<text x="381.64" y="649.9" font-family="Liberation Sans" font-size="40.0" font-weight="bold" stroke-width="1.5" transform="translate(381.64,649.9) skewX(-9) translate(-381.64,-649.9)" stroke="#000" fill="#000" textLength="23.61" lengthAdjust="spacingAndGlyphs">2</text>
<text x="441.03" y="412.7" font-family="Liberation Sans" font-size="39.6" font-weight="bold" stroke-width="1.5" transform="translate(441.03,412.7) skewX(-9) translate(-441.03,-412.7)" stroke="#000" fill="#000" textLength="23.45" lengthAdjust="spacingAndGlyphs">3</text>
<text x="698.03" y="407.7" font-family="Liberation Sans" font-size="41.1" font-weight="bold" stroke-width="1.5" transform="translate(698.03,407.7) skewX(-9) translate(-698.03,-407.7)" stroke="#000" fill="#000" textLength="24.49" lengthAdjust="spacingAndGlyphs">4</text>
<text x="706.14" y="794.6" font-family="Liberation Sans" font-size="40.83" font-weight="bold" stroke-width="1.5" transform="translate(706.14,794.6) skewX(-9) translate(-706.14,-794.6)" stroke="#000" fill="#000" textLength="23.95" lengthAdjust="spacingAndGlyphs">5</text>
<text x="289.92" y="864.8" font-family="Liberation Sans" font-size="39.73" font-weight="bold" stroke-width="1.5" transform="translate(289.92,864.8) skewX(-9) translate(-289.92,-864.8)" stroke="#000" fill="#000" textLength="23.0" lengthAdjust="spacingAndGlyphs">6</text>
<path d="M146.5,33.3 L159.25,27.1 L166.8,27.1 L162.7,56.7 L154.2,56.7 L157.2,35.1 L151.2,38.8 Z" fill="#000"/>
<path d="M172.76,812.45 L182.9,806.2 L190.7,806.2 L186.8,835.6 L178.2,835.6 L181.35,813.75 L175.1,817.66 Z" fill="#000"/></svg></body></html>
